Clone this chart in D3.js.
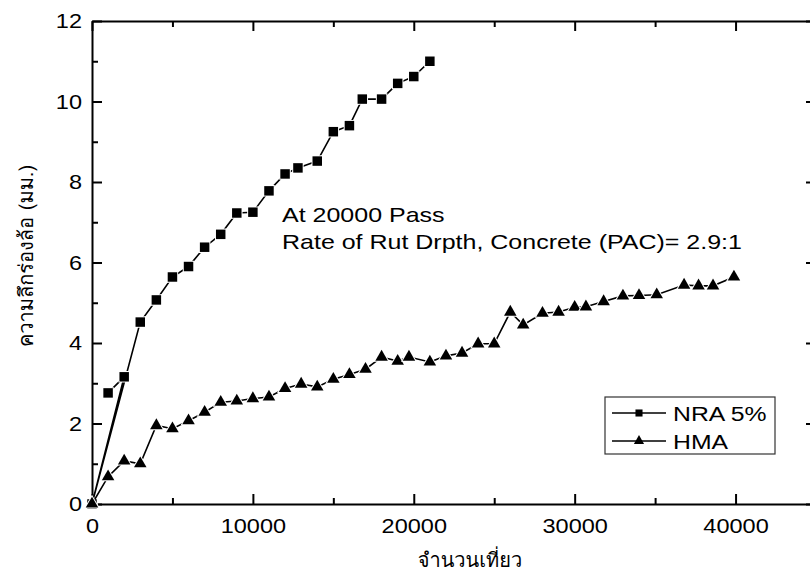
<!DOCTYPE html>
<html>

<head>
    <meta charset='utf-8'>
    <title>Rut Depth</title>
    <script src='https://d3js.org/d3.v7.min.js'></script>
    <style>
        body { margin: 0; background: white; }
        text { font-family: 'Liberation Sans', Arial, sans-serif; fill: black; }
        .thai { font-family: Tahoma, Loma, Garuda, 'Noto Sans Thai Looped', 'Noto Sans Thai', 'DejaVu Sans', sans-serif; }
    </style>
</head>

<body>
    <script>
        // NRA 5% points, kept in the order they were plotted (origin sits third)
        const nraPasses = [1000, 2000, 0, 3000, 4000, 5000, 6000, 7000, 8000, 9000, 10000, 11000, 12000,
            12800, 14000, 15000, 16000, 16800, 18000, 19000, 20000, 21000];
        const nraDepth = [2.76, 3.16, 0, 4.52, 5.07, 5.64, 5.9, 6.38, 6.7, 7.23, 7.25, 7.78, 8.2,
            8.35, 8.52, 9.25, 9.4, 10.06, 10.06, 10.45, 10.62, 11.0];

        // HMA points
        const hmaPasses = [0, 1000, 2000, 3000, 4000, 5000, 6000, 7000, 8000, 9000,
            10000, 11000, 12000, 13000, 14000, 15000, 16000, 17000, 18000, 19000,
            19700, 21000, 22000, 23000, 24000, 25000, 26000, 26800, 28000, 29000,
            30000, 30700, 31800, 33000, 34000, 35100, 36800, 37700, 38600, 39900];
        const hmaDepth = [0, 0.68, 1.07, 1.0, 1.95, 1.87, 2.07, 2.28, 2.53, 2.56,
            2.62, 2.66, 2.87, 2.98, 2.91, 3.1, 3.22, 3.35, 3.65, 3.55,
            3.65, 3.53, 3.68, 3.75, 3.98, 3.98, 4.77, 4.45, 4.74, 4.77,
            4.89, 4.9, 5.03, 5.17, 5.18, 5.2, 5.44, 5.42, 5.42, 5.64];

        const seriesNames = ['NRA 5%', 'HMA'];

        // tick values
        const xMajor = [0, 10000, 20000, 30000, 40000];
        const xMinor = [5000, 15000, 25000, 35000];
        const yMajor = [0, 2, 4, 6, 8, 10, 12];
        const yMinor = [1, 3, 5, 7, 9, 11];

        const width = 810, height = 577;
        const plotLeft = 92, plotRight = 816, plotTop = 21, plotBottom = 504;

        const svg = d3.select('body')
            .append('svg')
            .attr('width', width)
            .attr('height', height);

        const x = d3.scaleLinear().domain([0, 45000]).range([plotLeft, plotRight]);
        const y = d3.scaleLinear().domain([0, 12]).range([plotBottom, plotTop]);

        // stretch text a bit wider, like the source image
        function place(sel, px, py, s) {
            sel.attr('transform', 'translate(' + px + ',' + py + ') scale(' + s + ',1)');
        }

        function styleAxis(g) {
            g.attr('font-size', null).attr('font-family', null);
            g.select('.domain').attr('stroke-width', 2);
            g.selectAll('.tick line').attr('stroke-width', 2);
            g.selectAll('text').style('font-size', '21px');
        }

        function minorTicks(g) {
            g.select('.domain').remove();
            g.selectAll('line').attr('stroke-width', 2);
        }

        // bottom axis
        const gBottom = svg.append('g')
            .attr('transform', 'translate(0,' + plotBottom + ')')
            .call(d3.axisBottom(x).tickValues(xMajor).tickSize(-10).tickSizeOuter(0)
                .tickPadding(14).tickFormat(d3.format('d')));
        styleAxis(gBottom);
        gBottom.selectAll('text').attr('transform', 'scale(1.12,1)');
        svg.append('g')
            .attr('transform', 'translate(0,' + plotBottom + ')')
            .call(d3.axisBottom(x).tickValues(xMinor).tickSize(-6).tickFormat(''))
            .call(minorTicks);

        // top axis
        const gTop = svg.append('g')
            .attr('transform', 'translate(0,' + plotTop + ')')
            .call(d3.axisTop(x).tickValues(xMajor).tickSize(-10).tickSizeOuter(0).tickFormat(''));
        styleAxis(gTop);
        svg.append('g')
            .attr('transform', 'translate(0,' + plotTop + ')')
            .call(d3.axisTop(x).tickValues(xMinor).tickSize(-6).tickFormat(''))
            .call(minorTicks);

        // left axis
        const gLeft = svg.append('g')
            .attr('transform', 'translate(' + plotLeft + ',0)')
            .call(d3.axisLeft(y).tickValues(yMajor).tickSize(-10).tickSizeOuter(0).tickPadding(10));
        styleAxis(gLeft);
        gLeft.selectAll('text').attr('x', -10 / 1.12).attr('transform', 'scale(1.12,1)');
        svg.append('g')
            .attr('transform', 'translate(' + plotLeft + ',0)')
            .call(d3.axisLeft(y).tickValues(yMinor).tickSize(-6).tickFormat(''))
            .call(minorTicks);

        // right axis
        const gRight = svg.append('g')
            .attr('transform', 'translate(' + plotRight + ',0)')
            .call(d3.axisRight(y).tickValues(yMajor).tickSize(-10).tickSizeOuter(0).tickFormat(''));
        styleAxis(gRight);
        svg.append('g')
            .attr('transform', 'translate(' + plotRight + ',0)')
            .call(d3.axisRight(y).tickValues(yMinor).tickSize(-6).tickFormat(''))
            .call(minorTicks);

        // data
        const nra = nraPasses.map((p, i) => ({ p: p, v: nraDepth[i] }));
        const hma = hmaPasses.map((p, i) => ({ p: p, v: hmaDepth[i] }));

        const line = d3.line().x(d => x(d.p)).y(d => y(d.v));
        const square = d3.symbol(d3.symbolSquare, 90);
        const triangle = d3.symbol(d3.symbolTriangle, 68);

        [[nra, square], [hma, triangle]].forEach(function (s) {
            svg.append('path')
                .datum(s[0])
                .attr('fill', 'none')
                .attr('stroke', 'black')
                .attr('stroke-width', 1.6)
                .attr('d', line);

            svg.append('g').selectAll('path')
                .data(s[0])
                .enter()
                .append('path')
                .attr('transform', d => 'translate(' + x(d.p) + ',' + y(d.v) + ')')
                .attr('d', s[1])
                .attr('fill', 'black')
                .attr('stroke', 'white')
                .attr('stroke-width', 2)
                .attr('paint-order', 'stroke');
        });

        // annotation
        place(svg.append('text').style('font-size', '21px').text('At 20000 Pass'), 282, 222, 1.19);
        place(svg.append('text').style('font-size', '21px')
            .text('Rate of Rut Drpth, Concrete (PAC)= 2.9:1'), 282, 249, 1.19);

        // legend
        const legend = svg.append('g');
        legend.append('rect')
            .attr('x', 605).attr('y', 397)
            .attr('width', 170).attr('height', 57)
            .attr('fill', 'white')
            .attr('stroke', '#333')
            .attr('stroke-width', 1.2);

        const legendSymbols = [d3.symbol(d3.symbolSquare, 50), d3.symbol(d3.symbolTriangle, 45)];
        seriesNames.forEach(function (name, i) {
            const ly = 413 + i * 28;
            legend.append('line')
                .attr('x1', 612).attr('x2', 666)
                .attr('y1', ly).attr('y2', ly)
                .attr('stroke', 'black')
                .attr('stroke-width', 1.6);
            legend.append('path')
                .attr('transform', 'translate(639,' + ly + ')')
                .attr('d', legendSymbols[i])
                .attr('fill', 'black');
            place(legend.append('text').style('font-size', '21px').text(name), 673, ly + 7.5, 1.18);
        });

        // axis titles
        svg.append('text')
            .attr('class', 'thai')
            .attr('text-anchor', 'middle')
            .attr('transform', 'translate(470,567)')
            .style('font-size', '20px')
            .text('จำนวนเที่ยว');

        svg.append('text')
            .attr('class', 'thai')
            .attr('text-anchor', 'middle')
            .attr('transform', 'translate(33,256) rotate(-90)')
            .style('font-size', '20px')
            .text('ความลึกร่องล้อ (มม.)');
    </script>
</body>

</html>
